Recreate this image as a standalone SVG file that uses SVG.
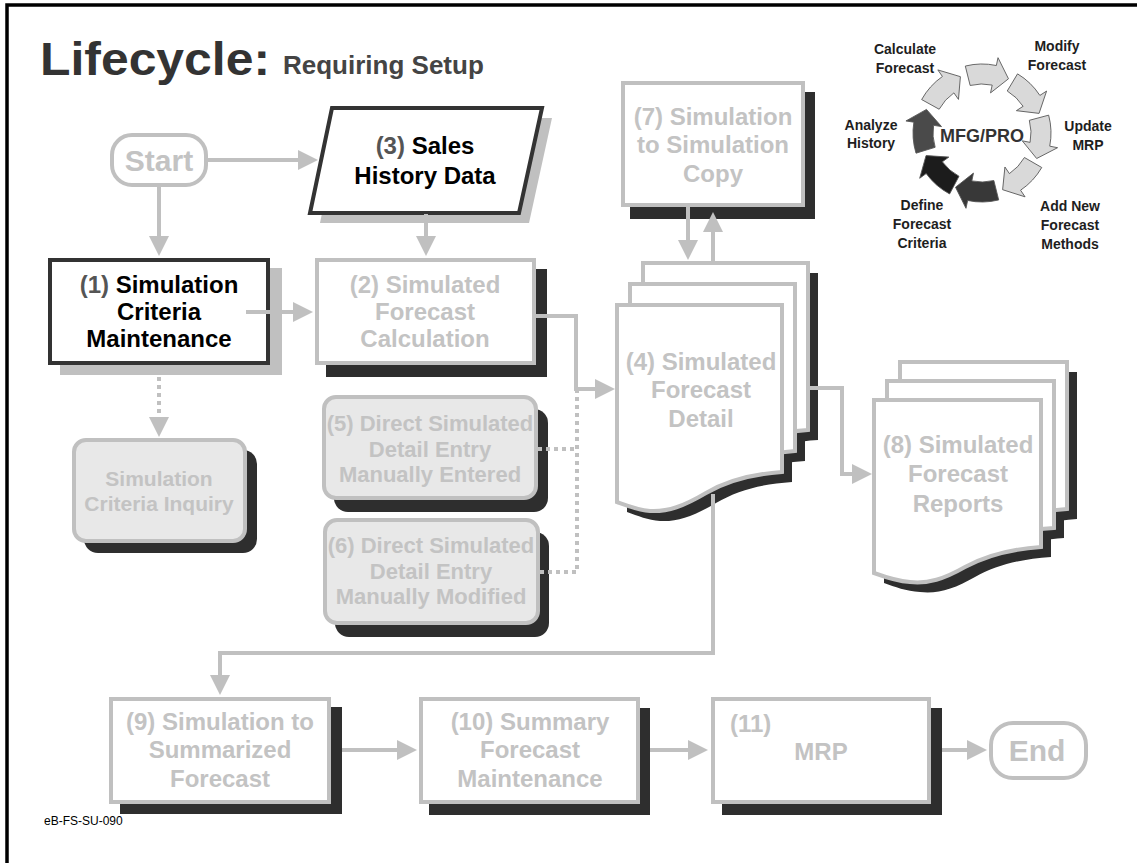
<svg xmlns="http://www.w3.org/2000/svg" xmlns:xlink="http://www.w3.org/1999/xlink" width="1137" height="863" viewBox="0 0 1137 863">
<style>
.t{font-family:"Liberation Sans",Arial,sans-serif;font-weight:bold;text-anchor:middle}
.tg{fill:#c3c3c3}
.g{fill:#fff;stroke:#c0c0c0;stroke-width:4}
.gf{fill:#e8e8e8;stroke:#c0c0c0;stroke-width:4}
.dk{fill:#2e2e2e}
.lt{fill:#c0c0c0}
.conn{fill:none;stroke:#c0c0c0;stroke-width:4}
.dot{stroke-dasharray:4 4}
.cl{font-family:"Liberation Sans",Arial,sans-serif;font-weight:bold;text-anchor:middle;font-size:14px;fill:#1e1e1e}
</style>
<defs>
<marker id="ah" markerUnits="userSpaceOnUse" markerWidth="20" markerHeight="20" viewBox="0 0 20 20" refX="2" refY="10" orient="auto"><path d="M0,0 L20,10 L0,20 Z" fill="#c0c0c0"/></marker>
<path id="doc4" d="M617,305 H782 V472 C752,474 728,480 706,493 C684,506 668,512 650,511 C638,510 628,506 617,502 Z"/>
<path id="doc8" d="M874,400 H1041 V547 C1011,549 987,555 965,567 C944,579 928,584 910,582 C896,581 885,577 874,573 Z"/>
<path id="carr" d="M69,0 A69,69 0 0 1 62.02,30.25 L69.21,33.76 L46.2,38.8 L36.85,17.97 L44.04,21.48 A49,49 0 0 0 49,0 Z"/>
</defs>
<rect width="1137" height="863" fill="#fff"/>
<rect x="7" y="5" width="1140" height="870" fill="none" stroke="#000" stroke-width="3.5"/>

<g id="title">
<text x="40" y="75" font-family="Liberation Sans,Arial,sans-serif" font-weight="bold" font-size="46" fill="#333" textLength="230" lengthAdjust="spacingAndGlyphs">Lifecycle:</text>
<text x="283" y="74" font-family="Liberation Sans,Arial,sans-serif" font-weight="bold" font-size="26" fill="#444">Requiring Setup</text>
</g>

<g id="cycle">
<g stroke="#555" stroke-width="0.8">
<use xlink:href="#carr" fill="#d9d9d9" transform="translate(982,133) rotate(209)"/>
<use xlink:href="#carr" fill="#d9d9d9" transform="translate(982,133) rotate(256)"/>
<use xlink:href="#carr" fill="#d9d9d9" transform="translate(982,133) rotate(301)"/>
<use xlink:href="#carr" fill="#d9d9d9" transform="translate(982,133) rotate(345)"/>
<use xlink:href="#carr" fill="#d9d9d9" transform="translate(982,133) rotate(30)"/>
<use xlink:href="#carr" fill="#383838" transform="translate(982,133) rotate(76)"/>
<use xlink:href="#carr" fill="#1c1c1c" transform="translate(982,133) rotate(118)"/>
<use xlink:href="#carr" fill="#4a4a4a" transform="translate(982,133) rotate(163)"/>
</g>
<text x="982" y="142" class="t" font-size="18" fill="#333">MFG/PRO</text>
<text class="cl"><tspan x="905" y="54">Calculate</tspan><tspan x="905" y="73">Forecast</tspan></text>
<text class="cl"><tspan x="1057" y="51">Modify</tspan><tspan x="1057" y="70">Forecast</tspan></text>
<text class="cl"><tspan x="1088" y="131">Update</tspan><tspan x="1088" y="150">MRP</tspan></text>
<text class="cl"><tspan x="1070" y="211">Add New</tspan><tspan x="1070" y="230">Forecast</tspan><tspan x="1070" y="249">Methods</tspan></text>
<text class="cl"><tspan x="922" y="210">Define</tspan><tspan x="922" y="229">Forecast</tspan><tspan x="922" y="248">Criteria</tspan></text>
<text class="cl"><tspan x="871" y="130">Analyze</tspan><tspan x="871" y="148">History</tspan></text>
</g>

<g id="start">
<rect x="112" y="135" width="94" height="50" rx="20" class="g"/>
<text x="159" y="171" class="t tg" font-size="30">Start</text>
</g>

<g id="n3">
<polygon points="342,118 552,118 529,223 320,223" class="lt"/>
<polygon points="332,108 542,108 519,213 310,213" fill="#fff" stroke="#333" stroke-width="4"/>
<text class="t" font-size="24" fill="#000"><tspan x="425" y="154"><tspan fill="#555">(3)</tspan> Sales</tspan><tspan x="425" y="184">History Data</tspan></text>
</g>

<g id="n1">
<rect x="60" y="268" width="222" height="107" class="lt"/>
<rect x="50" y="260" width="218" height="103" fill="#fff" stroke="#333" stroke-width="4"/>
<text class="t" font-size="24" fill="#000"><tspan x="159" y="293"><tspan fill="#555">(1)</tspan> Simulation</tspan><tspan x="159" y="320">Criteria</tspan><tspan x="159" y="347">Maintenance</tspan></text>
</g>

<g id="n2">
<rect x="326" y="269" width="221" height="108" class="dk"/>
<rect x="317" y="260" width="217" height="103" class="g"/>
<text class="t tg" font-size="24"><tspan x="425" y="293">(2) Simulated</tspan><tspan x="425" y="320">Forecast</tspan><tspan x="425" y="347">Calculation</tspan></text>
</g>

<g id="inquiry">
<rect x="84" y="450" width="173" height="103" rx="14" class="dk"/>
<rect x="74" y="440" width="171" height="101" rx="12" class="gf"/>
<text class="t tg" font-size="21"><tspan x="159" y="486">Simulation</tspan><tspan x="159" y="511">Criteria Inquiry</tspan></text>
</g>

<g id="n5">
<rect x="334" y="409" width="214" height="103" rx="14" class="dk"/>
<rect x="324" y="397" width="212" height="101" rx="12" class="gf"/>
<text class="t tg" font-size="22"><tspan x="430" y="431">(5) Direct Simulated</tspan><tspan x="430" y="457">Detail Entry</tspan><tspan x="430" y="482">Manually Entered</tspan></text>
</g>

<g id="n6">
<rect x="335" y="532" width="214" height="105" rx="14" class="dk"/>
<rect x="325" y="520" width="213" height="103" rx="12" class="gf"/>
<text class="t tg" font-size="22"><tspan x="431" y="553">(6) Direct Simulated</tspan><tspan x="431" y="579">Detail Entry</tspan><tspan x="431" y="604">Manually Modified</tspan></text>
</g>

<g id="n7">
<rect x="630" y="92" width="185" height="127" class="dk"/>
<rect x="623" y="83" width="180" height="122" class="g"/>
<text class="t tg" font-size="24"><tspan x="713" y="125">(7) Simulation</tspan><tspan x="713" y="153">to Simulation</tspan><tspan x="713" y="182">Copy</tspan></text>
</g>

<g id="n4">
<use xlink:href="#doc4" class="dk" transform="translate(36,-32)"/>
<use xlink:href="#doc4" class="dk" transform="translate(23,-11)"/>
<use xlink:href="#doc4" class="dk" transform="translate(10,10)"/>
<use xlink:href="#doc4" class="g" transform="translate(26,-42)"/>
<use xlink:href="#doc4" class="g" transform="translate(13,-21)"/>
<use xlink:href="#doc4" class="g"/>
<text class="t tg" font-size="24"><tspan x="701" y="370">(4) Simulated</tspan><tspan x="701" y="398">Forecast</tspan><tspan x="701" y="427">Detail</tspan></text>
</g>

<g id="n8">
<use xlink:href="#doc8" class="dk" transform="translate(36,-28)"/>
<use xlink:href="#doc8" class="dk" transform="translate(23,-9)"/>
<use xlink:href="#doc8" class="dk" transform="translate(10,10)"/>
<use xlink:href="#doc8" class="g" transform="translate(26,-38)"/>
<use xlink:href="#doc8" class="g" transform="translate(13,-19)"/>
<use xlink:href="#doc8" class="g"/>
<text class="t tg" font-size="24"><tspan x="958" y="453">(8) Simulated</tspan><tspan x="958" y="482">Forecast</tspan><tspan x="958" y="512">Reports</tspan></text>
</g>

<g id="n9">
<rect x="120" y="707" width="222" height="107" class="dk"/>
<rect x="111" y="699" width="218" height="103" class="g"/>
<text class="t tg" font-size="24"><tspan x="220" y="730">(9) Simulation to</tspan><tspan x="220" y="758">Summarized</tspan><tspan x="220" y="787">Forecast</tspan></text>
</g>

<g id="n10">
<rect x="429" y="708" width="221" height="107" class="dk"/>
<rect x="421" y="699" width="217" height="103" class="g"/>
<text class="t tg" font-size="24"><tspan x="530" y="730">(10) Summary</tspan><tspan x="530" y="758">Forecast</tspan><tspan x="530" y="787">Maintenance</tspan></text>
</g>

<g id="n11">
<rect x="722" y="708" width="220" height="107" class="dk"/>
<rect x="713" y="699" width="216" height="103" class="g"/>
<text class="t tg" font-size="24" style="text-anchor:start"><tspan x="730" y="732">(11)</tspan></text>
<text x="821" y="760" class="t tg" font-size="24">MRP</text>
</g>

<g id="end">
<rect x="991" y="723" width="95" height="55" rx="22" class="g"/>
<text x="1037" y="761" class="t tg" font-size="30">End</text>
</g>

<g id="connectors">
<path class="conn" d="M208,160 H300" marker-end="url(#ah)"/>
<path class="conn" d="M159,187 V238" marker-end="url(#ah)"/>
<path class="conn" d="M426,214 V238" marker-end="url(#ah)"/>
<path class="conn" d="M246,312 H295" marker-end="url(#ah)"/>
<path class="conn dot" d="M159,377 V419" marker-end="url(#ah)"/>
<path class="conn" d="M534,316 H576 V389 H597" marker-end="url(#ah)"/>
<path class="conn dot" d="M538,449 H577"/>
<path class="conn dot" d="M540,572 H577 V391"/>
<path class="conn" d="M688,207 V242" marker-end="url(#ah)"/>
<path class="conn" d="M713,263 V230" marker-end="url(#ah)"/>
<path class="conn" d="M806,388 H842 V474 H854" marker-end="url(#ah)"/>
<path class="conn" d="M713,494 V653 H220 V677" marker-end="url(#ah)"/>
<path class="conn" d="M342,750 H399" marker-end="url(#ah)"/>
<path class="conn" d="M650,750 H690" marker-end="url(#ah)"/>
<path class="conn" d="M942,750 H969" marker-end="url(#ah)"/>
</g>

<text x="44" y="825" font-family="Liberation Sans,Arial,sans-serif" font-size="12" fill="#000">eB-FS-SU-090</text>
</svg>
